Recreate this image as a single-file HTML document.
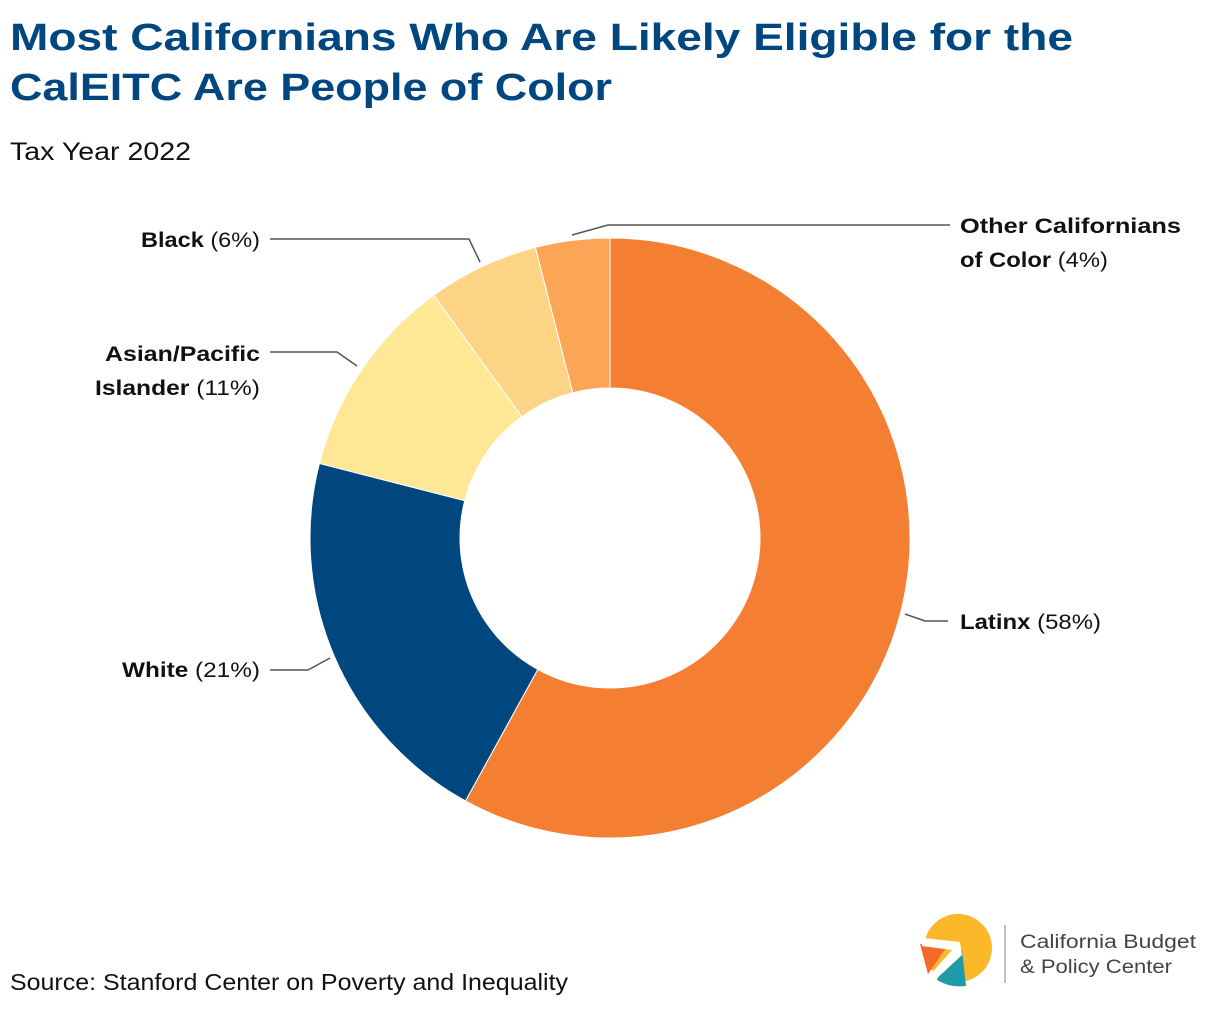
<!DOCTYPE html>
<html><head><meta charset="utf-8"><style>
html,body{margin:0;padding:0;background:#fff;}
body{width:1220px;height:1008px;overflow:hidden;font-family:"Liberation Sans",sans-serif;}
svg text{font-family:"Liberation Sans",sans-serif;}
</style></head><body>
<svg id="chart" width="1220" height="1008" viewBox="0 0 1220 1008">
<text x="10" y="50" font-size="38" font-weight="bold" fill="#00467f" textLength="1063" lengthAdjust="spacingAndGlyphs">Most Californians Who Are Likely Eligible for the</text>
<text x="10" y="100" font-size="38" font-weight="bold" fill="#00467f" textLength="602" lengthAdjust="spacingAndGlyphs">CalEITC Are People of Color</text>
<text x="10" y="160" font-size="25" fill="#111" textLength="181" lengthAdjust="spacingAndGlyphs">Tax Year 2022</text>
<g id="slices"></g>
<g id="labels"></g>
<text x="10" y="990" font-size="23" fill="#111" textLength="558" lengthAdjust="spacingAndGlyphs">Source: Stanford Center on Poverty and Inequality</text>
<g>
<circle cx="958" cy="948" r="34" fill="#fbb829"/>
<path d="M920,944 L946,948 L928,974 Z" fill="#f26a25"/>
<path d="M944,962 L962,950 L966,986 Q950,988 937,980 Z" fill="#1e9aa8"/>
<path d="M923,938 L960,942 L962,955 L934,981 L929,976 L952,950 L922,946 Z" fill="#fff"/>
<line x1="1005" y1="925" x2="1005" y2="983" stroke="#aaa" stroke-width="1.5"/>
<text x="1020" y="948" font-size="19" fill="#444" textLength="176" lengthAdjust="spacingAndGlyphs">California Budget</text>
<text x="1020" y="973" font-size="19" fill="#444" textLength="152" lengthAdjust="spacingAndGlyphs">&amp; Policy Center</text>
</g>
</svg>
<script>
const categories = ["Latinx","White","Asian/Pacific Islander","Black","Other Californians of Color"];
const values = [58,21,11,6,4];
const colors = ["#f47f32","#00467f","#fee896","#fdd386","#fba556"];
const cx=610, cy=538, R=300, r=150;
const NS="http://www.w3.org/2000/svg";
const total = values.reduce((a,b)=>a+b,0);
function pt(frac,rad){const a=frac*2*Math.PI;return [cx+rad*Math.sin(a), cy-rad*Math.cos(a)];}
const g=document.getElementById('slices');
let acc=0;
values.forEach((v,i)=>{
  const f0=acc/total, f1=(acc+v)/total; acc+=v;
  const [x0,y0]=pt(f0,R),[x1,y1]=pt(f1,R),[x2,y2]=pt(f1,r),[x3,y3]=pt(f0,r);
  const large=(f1-f0)>0.5?1:0;
  const p=document.createElementNS(NS,'path');
  p.setAttribute('d',`M${x0},${y0} A${R},${R} 0 ${large} 1 ${x1},${y1} L${x2},${y2} A${r},${r} 0 ${large} 0 ${x3},${y3} Z`);
  p.setAttribute('fill',colors[i]);
  p.setAttribute('stroke','#fff');
  p.setAttribute('stroke-width','1');
  
  
  g.appendChild(p);
});
const L=document.getElementById('labels');
const T='font-size="21" fill="#111" lengthAdjust="spacingAndGlyphs"';
L.innerHTML=`
<polyline points="905,614 925,621 948,621" fill="none" stroke="#555" stroke-width="1.5"/>
<text x="960" y="629" ${T} textLength="141"><tspan font-weight="bold">Latinx</tspan> (${values[0]}%)</text>
<polyline points="330,658 308,670 270,670" fill="none" stroke="#555" stroke-width="1.5"/>
<text x="122" y="677" ${T} textLength="138"><tspan font-weight="bold">White</tspan> (${values[1]}%)</text>
<polyline points="357,366 337,352 270,352" fill="none" stroke="#555" stroke-width="1.5"/>
<text x="105" y="361" ${T} textLength="155" font-weight="bold">Asian/Pacific</text>
<text x="95" y="395" ${T} textLength="165"><tspan font-weight="bold">Islander</tspan> (${values[2]}%)</text>
<polyline points="480,262 469,239 270,239" fill="none" stroke="#555" stroke-width="1.5"/>
<text x="141" y="247" ${T} textLength="119"><tspan font-weight="bold">Black</tspan> (${values[3]}%)</text>
<polyline points="572,235 608,225 950,225" fill="none" stroke="#555" stroke-width="1.5"/>
<text x="960" y="233" ${T} textLength="221" font-weight="bold">Other Californians</text>
<text x="960" y="267" ${T} textLength="148"><tspan font-weight="bold">of Color</tspan> (${values[4]}%)</text>`;
</script>
</body></html>
